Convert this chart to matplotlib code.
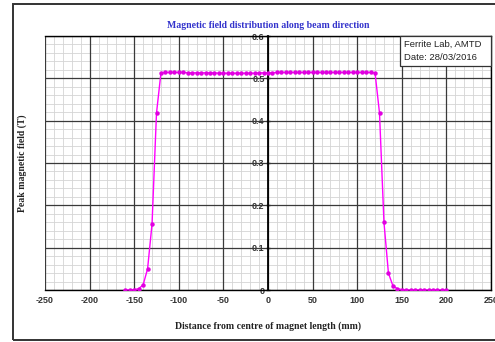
import matplotlib
matplotlib.use("Agg")
import matplotlib.pyplot as plt
from matplotlib.patches import Rectangle
from matplotlib.ticker import MultipleLocator

# Data (distance in mm, peak field in T)
left_x = [-160, -155, -150, -145, -140, -135, -130, -125]
left_y = [0.000, 0.000, 0.001, 0.003, 0.012, 0.050, 0.156, 0.418]
plateau_x = list(range(-120, 125, 5))
plateau_y = [0.513, 0.514, 0.514, 0.514, 0.514, 0.514, 0.513, 0.513, 0.513, 0.513,
             0.513, 0.513, 0.513, 0.512, 0.512, 0.512, 0.512, 0.512, 0.512, 0.512,
             0.512, 0.512, 0.513, 0.513, 0.513, 0.513, 0.514, 0.514, 0.514, 0.514,
             0.514, 0.514, 0.514, 0.514, 0.514, 0.514, 0.514, 0.514, 0.514, 0.514,
             0.514, 0.514, 0.514, 0.514, 0.514, 0.514, 0.514, 0.514, 0.513]
right_x = [125, 130, 135, 140, 145, 150, 155, 160, 165, 170, 175, 180, 185, 190, 195, 200]
right_y = [0.418, 0.160, 0.040, 0.010, 0.003, 0.001, 0.000, 0.000, 0.000, 0.000,
           0.000, 0.000, 0.000, 0.000, 0.000, 0.000]

x_vals = left_x + plateau_x + right_x
y_vals = left_y + plateau_y + right_y

x_ticks = [-250, -200, -150, -100, -50, 0, 50, 100, 150, 200, 250]
y_ticks = [0, 0.1, 0.2, 0.3, 0.4, 0.5, 0.6]
y_tick_labels = ["0", "0.1", "0.2", "0.3", "0.4", "0.5", "0.6"]

title = "Magnetic field distribution along beam direction"
xlabel = "Distance from centre of magnet length (mm)"
ylabel = "Peak magnetic field (T)"
note = "Ferrite Lab, AMTD\nDate: 28/03/2016"

W, H = 495, 342
fig = plt.figure(figsize=(W / 100, H / 100), dpi=100)
fig.patch.set_facecolor("white")

# outer frame
fig.patches.append(Rectangle((13 / W, 1 - 340 / H), (W + 5 - 13) / W, (340 - 4) / H,
                             transform=fig.transFigure, fill=False,
                             edgecolor="#333333", linewidth=1.4))

ax = fig.add_axes([45 / W, 1 - 290 / H, (491 - 45) / W, (290 - 36) / H])
ax.set_xlim(-250, 250)
ax.set_ylim(0, 0.6)

ax.xaxis.set_minor_locator(MultipleLocator(10))
ax.yaxis.set_minor_locator(MultipleLocator(0.02))
ax.grid(which="minor", color="#d4d4d4", linewidth=0.6, zorder=0)
ax.set_axisbelow(True)
for xt in x_ticks:
    ax.axvline(xt, color="#3a3a3a", linewidth=0.9, zorder=1)
for yt in y_ticks:
    ax.axhline(yt, color="#3a3a3a", linewidth=0.9, zorder=1)

for s in ["top", "right", "bottom"]:
    ax.spines[s].set_color("black")
    ax.spines[s].set_linewidth(1.0)
ax.spines["left"].set_position(("data", 0))
ax.spines["left"].set_linewidth(1.3)
ax.spines["left"].set_zorder(2)

ax.set_xticks(x_ticks)
ax.set_xticklabels([str(t) for t in x_ticks])
ax.set_yticks(y_ticks)
ax.set_yticklabels(y_tick_labels)
ax.tick_params(which="minor", length=0)
ax.tick_params(axis="x", which="major", length=0, pad=4, labelsize=6.5, labelcolor="#333333")
ax.tick_params(axis="y", which="major", length=3, width=1, direction="inout", pad=1,
               labelsize=6.5, labelcolor="#333333")
for lab in ax.get_xticklabels() + ax.get_yticklabels():
    lab.set_family("Liberation Sans")
    lab.set_fontweight("bold")

ax.plot(x_vals, y_vals, color="#ff00ff", linewidth=1.0, marker="o",
        markersize=2.2, markerfacecolor="#e000e0", markeredgecolor="#e000e0", zorder=5)

# note box anchored at top-right corner of the plot
ax.add_patch(Rectangle((0.796, 0.882), 0.204, 0.118, transform=ax.transAxes,
                       facecolor="white", edgecolor="#333333", linewidth=0.9,
                       zorder=6, clip_on=False))
ax.text(0.806, 0.984, note, transform=ax.transAxes, ha="left", va="top",
        fontsize=6.8, family="Liberation Sans", color="#222222", linespacing=1.5,
        zorder=7)

fig.text(268 / W, 1 - 26 / H, title, ha="center", va="center", fontsize=7,
         family="Liberation Serif", fontweight="bold", color="#3333cc")
fig.text(268 / W, 1 - 326 / H, xlabel, ha="center", va="center", fontsize=7,
         family="Liberation Serif", fontweight="bold", color="#222222")
fig.text(22 / W, 1 - 163 / H, ylabel, ha="center", va="center", fontsize=7,
         family="Liberation Serif", fontweight="bold", color="#222222", rotation=90)

fig.savefig("out.png", dpi=100)
